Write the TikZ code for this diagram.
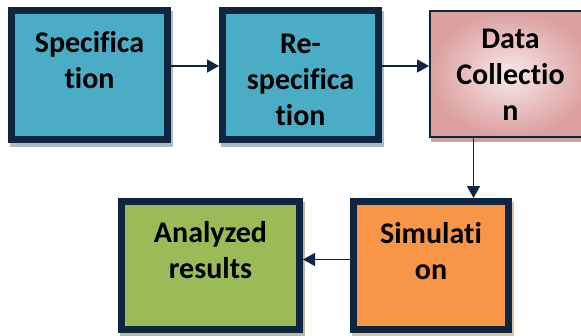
\documentclass[tikz,border=0pt]{standalone}
\usepackage{fontspec}
\setmainfont{Carlito}[Ligatures={NoCommon,NoRequired,NoContextual}]
\usepackage{tikz}
\usetikzlibrary{arrows.meta, shadows, positioning}
\definecolor{navy}{HTML}{10253F}
\definecolor{tealfill}{HTML}{4BACC6}
\definecolor{tealshadow}{HTML}{A9BCC8}
\definecolor{orangefill}{HTML}{F79646}
\definecolor{orangeshadow}{HTML}{D8C3AC}
\definecolor{greenfill}{HTML}{9BBB59}
\definecolor{greenshadow}{HTML}{B5BDA6}
\definecolor{pinkdark}{HTML}{DCA0A0}
\definecolor{pinklight}{HTML}{F7E8E8}
\definecolor{pinkshadow}{HTML}{C7A2A2}

\begin{document}
\begin{tikzpicture}[x=1pt, y=-1pt,
  box/.style={draw=navy, line width=7pt, inner sep=0pt,
    minimum width=156pt, minimum height=129pt},
  boxtext/.style={font=\bfseries\fontsize{30}{36}\selectfont, align=center,
    inner sep=0pt, text=black},
  flow/.style={draw=navy, line width=1.6pt, -{Triangle[length=12pt, width=13pt]}}]
  \useasboundingbox (0,0) rectangle (581,335);
  \node[box, fill=tealfill, drop shadow={shadow xshift=2pt, shadow yshift=-4pt,
    draw=tealshadow, fill=tealshadow, line width=7pt, opacity=1}] (spec) at (89.5,75) {};
  \node[box, fill=tealfill, drop shadow={shadow xshift=2pt, shadow yshift=-4pt,
    draw=tealshadow, fill=tealshadow, line width=7pt, opacity=1}] (respec) at (300.5,75) {};
  \node[box, line width=2pt, minimum width=161pt, minimum height=126pt,
    inner color=pinklight, outer color=pinkdark, drop shadow={shadow xshift=2pt, shadow yshift=-4pt,
    draw=pinkshadow, fill=pinkshadow, line width=2pt, opacity=1}] (coll) at (510.5,74) {};
  \node[box, fill=orangefill, minimum width=155pt, minimum height=128pt,
    drop shadow={shadow xshift=2pt, shadow yshift=-4pt,
    draw=orangeshadow, fill=orangeshadow, line width=7pt, opacity=1}] (sim) at (431,265.5) {};
  \node[box, fill=greenfill, minimum width=178pt, minimum height=128pt,
    drop shadow={shadow xshift=2pt, shadow yshift=-4pt,
    draw=greenshadow, fill=greenshadow, line width=7pt, opacity=1}] (res) at (210.5,265.5) {};

  \node[boxtext, below=24pt of spec.north] (spec-t) {Specifica\\tion};
  \node[boxtext, below=27pt of respec.north] (respec-t) {Re-\\specifica\\tion};
  \node[boxtext, below=19pt of coll.north] (coll-t) {Data\\Collectio\\n};
  \node[boxtext, below=24pt of sim.north] (sim-t) {Simulati\\on};
  \node[boxtext, below=23pt of res.north] (res-t) {Analyzed\\results};

  \draw[flow] ([yshift=9pt]spec.east) -- ([yshift=9pt]respec.west);
  \draw[flow] ([yshift=9pt]respec.east) -- ([yshift=9pt]respec.east -| coll.west);
  \draw[flow] ([xshift=-37pt]coll.south) -- ([xshift=-37pt]coll.south |- sim.north);
  \draw[flow] ([yshift=6pt]sim.west) -- ([yshift=6pt]res.east);
\end{tikzpicture}
\end{document}
